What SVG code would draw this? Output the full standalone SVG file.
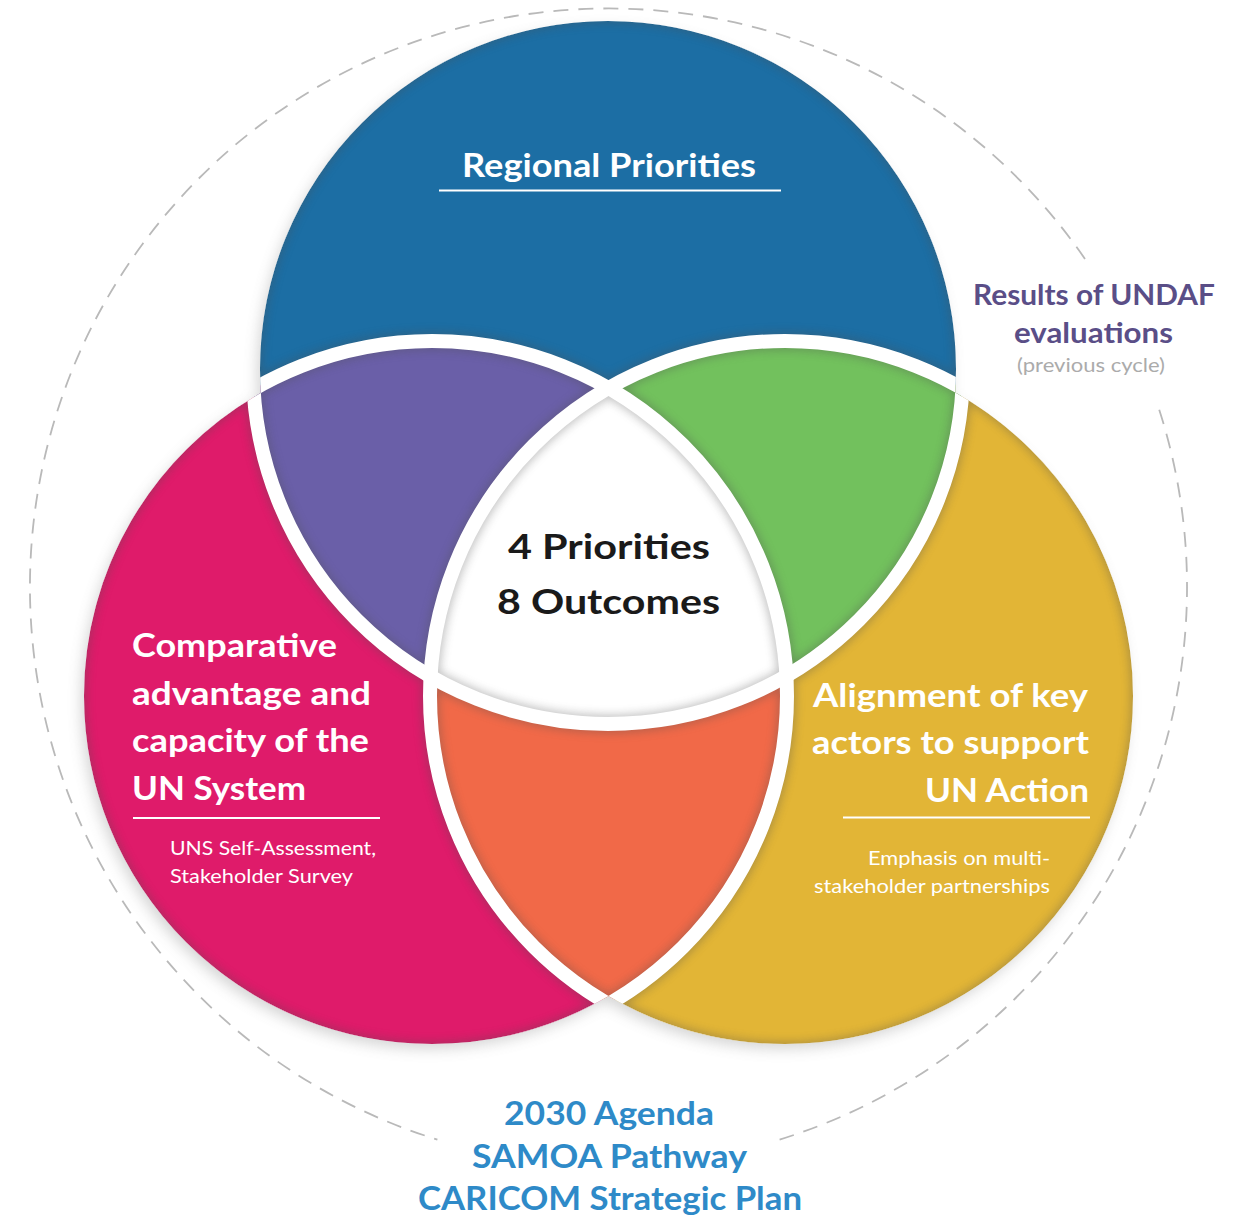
<svg xmlns="http://www.w3.org/2000/svg" width="1239" height="1221" viewBox="0 0 1239 1221">
<defs>
<style>
.lbl{font-family:Lato,"Open Sans","Liberation Sans",sans-serif;font-weight:bold;font-size:33px;fill:#ffffff}
.ctr{font-family:Lato,"Open Sans","Liberation Sans",sans-serif;font-weight:bold;font-size:35px;fill:#1a1a1a}
.sub{font-family:Lato,"Open Sans","Liberation Sans",sans-serif;font-size:20px;fill:#ffffff}
.undaf{font-family:Lato,"Open Sans","Liberation Sans",sans-serif;font-weight:bold;font-size:28px;fill:#5a4e87}
.prev{font-family:Lato,"Open Sans","Liberation Sans",sans-serif;font-size:20px;fill:#ababab}
.agenda{font-family:Lato,"Open Sans","Liberation Sans",sans-serif;font-weight:bold;font-size:33px;fill:#2e8ac8}
.rule{stroke:#ffffff;stroke-width:2}
.band{fill:none;stroke:#ffffff;stroke-width:14}
.bandsh{fill:none;stroke:#505050;stroke-width:18}
.ring{fill:none;stroke:#b9b9b9;stroke-width:1.8;stroke-dasharray:15 10}
</style>
<clipPath id="cT"><circle cx="608" cy="369" r="355"/></clipPath>
<clipPath id="cL"><circle cx="432" cy="696" r="355"/></clipPath>
<clipPath id="cR"><circle cx="785" cy="696" r="355"/></clipPath>
<clipPath id="cU"><circle cx="608" cy="369" r="348"/><circle cx="432" cy="696" r="348"/><circle cx="785" cy="696" r="348"/></clipPath>
<filter id="blur" x="-10%" y="-10%" width="120%" height="120%"><feGaussianBlur stdDeviation="5"/></filter>
<filter id="oblur" x="-10%" y="-10%" width="120%" height="120%"><feGaussianBlur stdDeviation="7"/></filter>
</defs>

<g id="outer-ring">
<path class="ring" d="M1085 259 A578.5 578.5 0 1 0 437.4 1139.6"/>
<path class="ring" d="M779.6 1139.6 A578.5 578.5 0 0 0 1157 403"/>
</g>

<g id="venn-shapes">
<g filter="url(#oblur)" opacity="0.3" transform="translate(-4,6)">
<circle cx="608" cy="369" r="347" fill="#777"/>
<circle cx="432" cy="696" r="347" fill="#777"/>
<circle cx="785" cy="696" r="347" fill="#777"/>
</g>
<g clip-path="url(#cU)">
<circle cx="608" cy="369" r="355" fill="#1c6ea4"/>
<circle cx="432" cy="696" r="355" fill="#df1b6a"/>
<circle cx="785" cy="696" r="355" fill="#e2b536"/>
<circle cx="432" cy="696" r="355" fill="#6a5fa8" clip-path="url(#cT)"/>
<circle cx="785" cy="696" r="355" fill="#72c15d" clip-path="url(#cT)"/>
<circle cx="785" cy="696" r="355" fill="#f16948" clip-path="url(#cL)"/>
<g clip-path="url(#cT)"><circle cx="785" cy="696" r="355" fill="#ffffff" clip-path="url(#cL)"/></g>
<g filter="url(#blur)" opacity="0.35">
<circle class="bandsh" cx="608" cy="369" r="355"/>
<circle class="bandsh" cx="432" cy="696" r="355"/>
<circle class="bandsh" cx="785" cy="696" r="355"/>
</g>
<circle class="band" cx="608" cy="369" r="355"/>
<circle class="band" cx="432" cy="696" r="355"/>
<circle class="band" cx="785" cy="696" r="355"/>
</g>
</g>

<g id="node-regional">
<text class="lbl" x="462" y="177" textLength="294" lengthAdjust="spacingAndGlyphs">Regional Priorities</text>
<line class="rule" x1="439" y1="190.5" x2="781" y2="190.5"/>
</g>

<g id="node-center">
<text class="ctr" x="508" y="559" textLength="202" lengthAdjust="spacingAndGlyphs">4 Priorities</text>
<text class="ctr" x="497" y="614" textLength="223" lengthAdjust="spacingAndGlyphs">8 Outcomes</text>
</g>

<g id="node-comparative">
<text class="lbl" x="132" y="657" textLength="205" lengthAdjust="spacingAndGlyphs">Comparative</text>
<text class="lbl" x="132" y="705" textLength="239" lengthAdjust="spacingAndGlyphs">advantage and</text>
<text class="lbl" x="132" y="752" textLength="237" lengthAdjust="spacingAndGlyphs">capacity of the</text>
<text class="lbl" x="132" y="800" textLength="174" lengthAdjust="spacingAndGlyphs">UN System</text>
<line class="rule" x1="133" y1="818" x2="380" y2="818"/>
<text class="sub" x="170" y="855" textLength="206" lengthAdjust="spacingAndGlyphs">UNS Self-Assessment,</text>
<text class="sub" x="170" y="883" textLength="183" lengthAdjust="spacingAndGlyphs">Stakeholder Survey</text>
</g>

<g id="node-alignment">
<text class="lbl" x="813" y="707" textLength="275" lengthAdjust="spacingAndGlyphs">Alignment of key</text>
<text class="lbl" x="812" y="754" textLength="277" lengthAdjust="spacingAndGlyphs">actors to support</text>
<text class="lbl" x="925" y="802" textLength="164" lengthAdjust="spacingAndGlyphs">UN Action</text>
<line class="rule" x1="843" y1="817.5" x2="1090" y2="817.5"/>
<text class="sub" x="868" y="865" textLength="182" lengthAdjust="spacingAndGlyphs">Emphasis on multi-</text>
<text class="sub" x="814" y="893" textLength="236" lengthAdjust="spacingAndGlyphs">stakeholder partnerships</text>
</g>

<g id="node-undaf">
<text class="undaf" x="973" y="305" textLength="242" lengthAdjust="spacingAndGlyphs">Results of UNDAF</text>
<text class="undaf" x="1014" y="343" textLength="159" lengthAdjust="spacingAndGlyphs">evaluations</text>
<text class="prev" x="1017" y="372" textLength="148" lengthAdjust="spacingAndGlyphs">(previous cycle)</text>
</g>

<g id="node-agenda">
<text class="agenda" x="504" y="1125" textLength="210" lengthAdjust="spacingAndGlyphs">2030 Agenda</text>
<text class="agenda" x="472" y="1168" textLength="275" lengthAdjust="spacingAndGlyphs">SAMOA Pathway</text>
<text class="agenda" x="418" y="1210" textLength="384" lengthAdjust="spacingAndGlyphs">CARICOM Strategic Plan</text>
</g>
</svg>
